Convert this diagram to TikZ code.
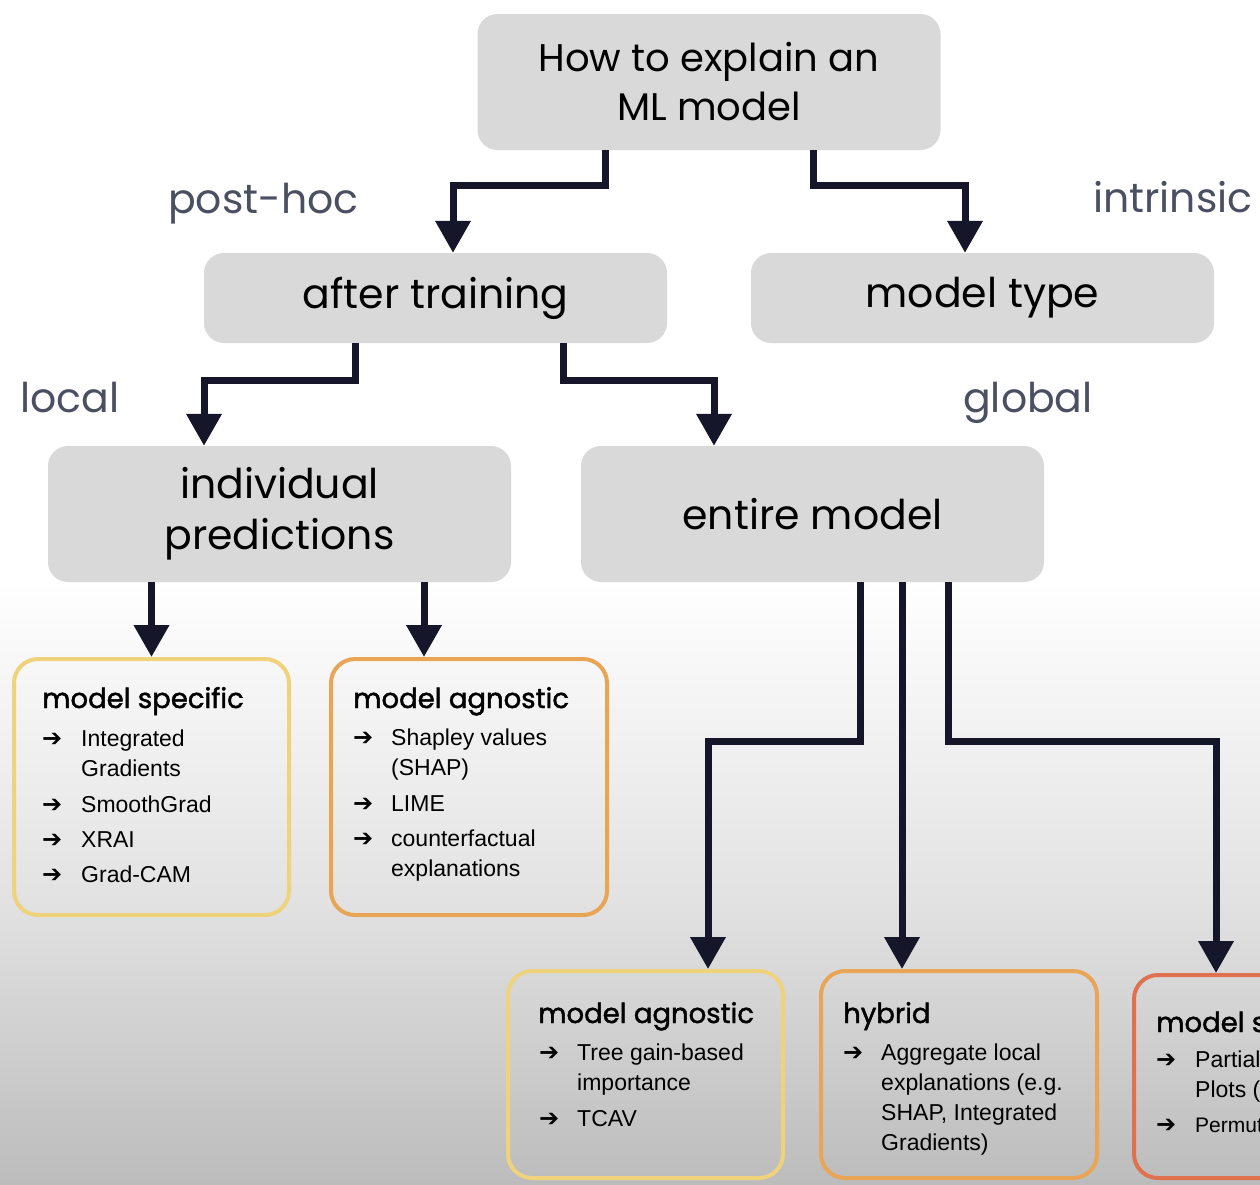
\documentclass[tikz,border=0pt]{standalone}
\usepackage{fontspec}
\setmainfont{Liberation Sans}
\newfontfamily\headfont{Poppins}
\newfontfamily\headbold[FakeBold=1.6]{Poppins}
\newfontfamily\symfont{DejaVu Sans}
\usetikzlibrary{arrows.meta,calc}

\definecolor{boxgray}{HTML}{D9D9D9}
\definecolor{ink}{HTML}{16162A}
\definecolor{labelc}{HTML}{4A5062}
\definecolor{bdyellow}{HTML}{EFD27C}
\definecolor{bdorange}{HTML}{E9A556}
\definecolor{bdred}{HTML}{E0714F}
\definecolor{fadeA}{HTML}{E2E2E2}
\definecolor{fadeB}{HTML}{BCBCBC}

\newcommand\arw{{\symfont\fontsize{24}{24}\selectfont ➔}}

\tikzset{
  graybox/.style={fill=boxgray, rounded corners=20pt, minimum width=463pt,
    inner sep=0pt, text=black, align=center,
    font=\headfont\fontsize{41}{51}\selectfont},
  catbox/.style={draw=#1, line width=4pt, rounded corners=24pt, inner sep=0pt},
  conn/.style={draw=ink, line width=7pt, -{Triangle[width=34pt,length=32pt]}},
  side/.style={anchor=base west, text=labelc, inner sep=0pt,
    font=\headfont\fontsize{41}{46}\selectfont},
  head/.style={anchor=base west, inner sep=0pt, text=black,
    font=\headbold\fontsize{27.5}{30}\selectfont},
  items/.style={anchor=base west, inner sep=0pt, text=black,
    font=\fontsize{23}{30}\selectfont},
}

\begin{document}
\begin{tikzpicture}[x=1pt, y=-1pt]
\useasboundingbox (0,0) rectangle (1260,1184);
\clip (0,0) rectangle (1260,1184);

% page background with a soft grey fade towards the bottom
\fill[white] (0,0) rectangle (1260,1184);
\shade[top color=white, bottom color=fadeA] (0,580) rectangle (1260,900.5);
\shade[top color=fadeA, bottom color=fadeB] (0,900) rectangle (1260,1184);

% grey question / category boxes
\node[graybox, minimum height=136pt, font=\headfont\fontsize{38.5}{49}\selectfont] (q) at (709,82) {How to explain an\\ML model};
\node[graybox, minimum height=90pt]  (at) at (435.5,298)  {after training};
\node[graybox, minimum height=90pt]  (mt) at (982.5,298)  {model type};
\node[graybox, minimum height=136pt] (ip) at (279.5,514)  {individual\\predictions};
\node[graybox, minimum height=136pt] (em) at (812.5,514)  {entire model};

% side labels
\node[side] (lph)  at (168,213)  {post-hoc};
\node[side] (lin)  at (1093,212) {intrinsic};
\node[side] (llo)  at (20,412)   {local};
\node[side] (lgl)  at (963,412)  {global};

% method boxes
\node[catbox=bdyellow, minimum width=275pt, minimum height=256pt] (ms)  at (151.5,787)  {};
\node[catbox=bdorange, minimum width=276pt, minimum height=256pt] (ma)  at (469,787)    {};
\node[catbox=bdyellow, minimum width=275pt, minimum height=207pt] (gma) at (645.5,1074.5) {};
\node[catbox=bdorange, minimum width=276pt, minimum height=207pt] (hy)  at (959,1074.5)   {};
\node[catbox=bdred,    minimum width=276pt, minimum height=203pt] (gms) at (1272,1076.5)  {};

% method box contents
\node[head] (msh) at (42,708) {model specific};
\node[items] (msi) at (42,746) {\begin{tabular}[t]{@{}p{39pt}@{}l@{}}
  \arw & Integrated\\ & Gradients\\[6pt]
  \arw & SmoothGrad\\[5pt]
  \arw & XRAI\\[5pt]
  \arw & Grad-CAM
\end{tabular}};

\node[head] (mah) at (353,708) {model agnostic};
\node[items] (mai) at (353,745) {\begin{tabular}[t]{@{}p{38pt}@{}l@{}}
  \arw & Shapley values\\ & (SHAP)\\[6pt]
  \arw & LIME\\[5pt]
  \arw & counterfactual\\ & explanations
\end{tabular}};

\node[head] (gmah) at (538,1023) {model agnostic};
\node[items] (gmai) at (539,1060) {\begin{tabular}[t]{@{}p{38pt}@{}l@{}}
  \arw & Tree gain-based\\ & importance\\[6pt]
  \arw & TCAV
\end{tabular}};

\node[head] (hyh) at (843,1023) {hybrid};
\node[items] (hyi) at (843,1060) {\begin{tabular}[t]{@{}p{38pt}@{}l@{}}
  \arw & Aggregate local\\ & explanations (e.g.\\ & SHAP, Integrated\\ & Gradients)
\end{tabular}};

\node[head] (gmsh) at (1156,1032) {model specific};
\node[items] (gmsi) at (1156,1067) {\begin{tabular}[t]{@{}p{39pt}@{}l@{}}
  \arw & Partial Dependence\\ & Plots (PDP)\\[5pt]
  \arw & {\fontsize{21}{30}\selectfont Permutation importance}
\end{tabular}};

% connectors
\draw[conn] ($(q.south)+(-104,0)$) -- ++(0,35) -| ($(at.north)+(17.5,0)$);
\draw[conn] ($(q.south)+(104,0)$)  -- ++(0,35) -| ($(mt.north)+(-17.5,0)$);

\draw[conn] ($(at.south)+(-80.5,0)$) -- ++(0,37) -| ($(ip.north)+(-75.5,0)$);
\draw[conn] ($(at.south)+(127.5,0)$) -- ++(0,37) -| ($(em.north)+(-98.5,0)$);

\draw[conn] (ip.south -| ms.north) -- (ms.north);
\draw[conn] ($(ip.south)+(144.5,0)$) -- ($(ma.north)+(-45,0)$);

\draw[conn] ($(em.south)+(47.5,0)$)  -- ++(0,159) -| ($(gma.north)+(62.5,0)$);
\draw[conn] ($(em.south)+(89.5,0)$)  -- ($(hy.north)+(-57,0)$);
\draw[conn] ($(em.south)+(135.5,0)$) -- ++(0,159) -| ($(gms.north)+(-56,0)$);
\end{tikzpicture}
\end{document}
